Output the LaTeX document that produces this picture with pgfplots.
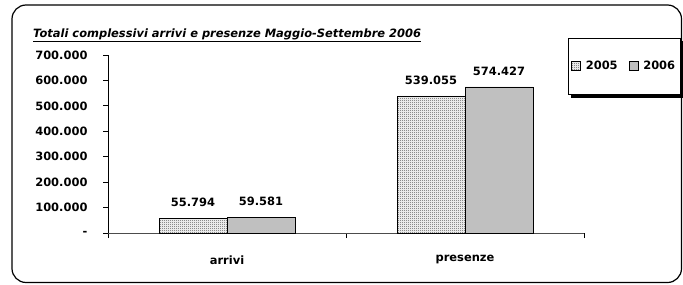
\documentclass[border=0pt]{standalone}
\usepackage{pgfplots}
\pgfplotsset{compat=1.18}
\usepackage{fontspec}
\setmainfont{DejaVu Sans}
\usetikzlibrary{patterns}
\pgfdeclarepatternformonly{finecheck}{\pgfpoint{0bp}{0bp}}{\pgfpoint{2bp}{2bp}}{\pgfpoint{2bp}{2bp}}{%
\pgfpathrectangle{\pgfpoint{0bp}{0bp}}{\pgfpoint{1bp}{1bp}}%
\pgfpathrectangle{\pgfpoint{1bp}{1bp}}{\pgfpoint{1bp}{1bp}}%
\pgfusepath{fill}}
\definecolor{g06}{HTML}{C0C0C0}
\newcommand{\lf}{\fontsize{11.5}{13}\selectfont\bfseries}
\begin{document}
\begin{tikzpicture}[x=1bp,y=1bp]
\useasboundingbox (0,0) rectangle (683,284);
\draw[line width=1.2bp, rounded corners=14bp] (12,1.5) rectangle (681.5,279);
\node[anchor=base west, font=\fontsize{11.5}{13}\selectfont\bfseries\itshape, inner sep=0] at (33,247) {\underline{Totali complessivi arrivi e presenze Maggio-Settembre 2006}};
\begin{axis}[at={(108bp,51bp)}, anchor=south west, scale only axis, width=476bp, height=178bp,
  ybar=0pt, bar width=68bp,
  xmin=-0.5, xmax=1.5, ymin=0, ymax=700000,
  axis x line*=bottom, axis y line*=left,
  axis line style={line width=0.8bp},
  x axis line style={draw=gray!60!black},
  tick align=outside, major tick length=5bp,
  tick style={line width=0.8bp, black},
  xtick={-0.5,0.5,1.5}, xticklabels={},
  extra x ticks={0,1}, extra x tick labels={arrivi,presenze},
  extra x tick style={major tick length=0pt, xticklabel style={font=\lf, yshift=-19bp}},
  ytick={0,100000,200000,300000,400000,500000,600000,700000},
  yticklabels={-,100.000,200.000,300.000,400.000,500.000,600.000,700.000},
  scaled y ticks=false,
  yticklabel style={font=\lf, xshift=-12bp},
  point meta=explicit symbolic,
  nodes near coords,
  every node near coord/.append style={font=\lf, yshift=8bp, black},
  legend style={name=leg, at={(axis description cs:0.966,1.0955)}, anchor=north west, draw=black, line width=0.8bp, fill=white, font=\lf, inner ysep=21bp, inner xsep=3bp},
  legend columns=2,
  legend image code/.code={\draw[#1, line width=0.6bp] (0bp,-4bp) rectangle (9bp,5bp);},
  /tikz/every odd column/.append style={column sep=3bp},
  /tikz/every even column/.append style={column sep=9bp},
]
\addplot[draw=black, line width=0.8bp, pattern=finecheck, pattern color=black!70] coordinates {(0,55794) [55.794] (1,539055) [539.055]};
\addplot[draw=black, line width=0.8bp, fill=g06] coordinates {(0,59581) [59.581] (1,574427) [574.427]};
\legend{2005,2006}
\end{axis}
\fill[black] ([yshift=-3bp]leg.north east) rectangle ([xshift=3bp,yshift=-3bp]leg.south east);
\fill[black] ([xshift=3bp]leg.south west) rectangle ([xshift=3bp,yshift=-3bp]leg.south east);
\end{tikzpicture}
\end{document}
